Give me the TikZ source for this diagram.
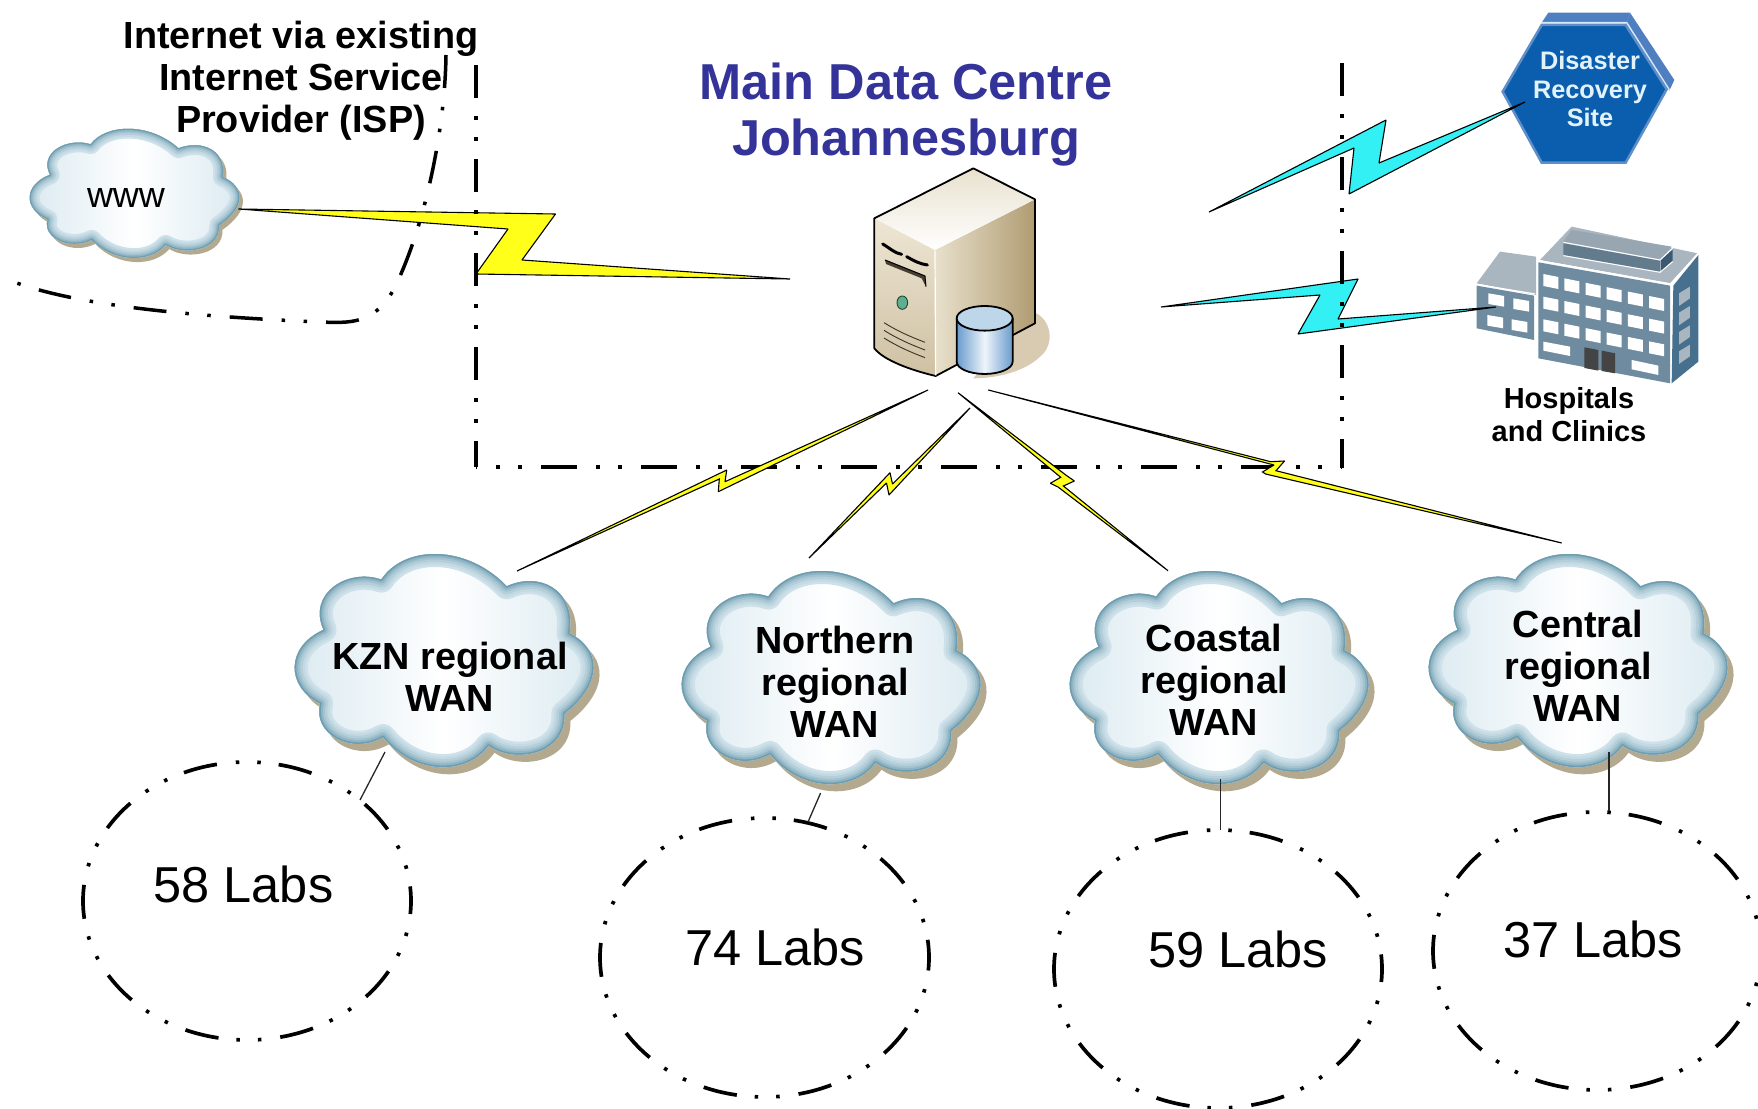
\documentclass[tikz,border=0pt]{standalone}
\usepackage{fontspec}
\setmainfont{Liberation Sans}
\definecolor{titleblue}{HTML}{33339A}
\definecolor{boltyellow}{HTML}{FFFF1A}
\definecolor{boltcyan}{HTML}{33F0F5}
\definecolor{rimc}{HTML}{6F9DB0}
\definecolor{cloudside}{HTML}{D9E9F0}
\definecolor{cloudshadowc}{HTML}{B3A98F}
\definecolor{hexfront}{HTML}{0B5EAD}
\definecolor{hexedge}{HTML}{5F8FC8}
\definecolor{hexside}{HTML}{4F7FC0}
\definecolor{hexline}{HTML}{D8E8F4}
\definecolor{hextext}{HTML}{E2F2FA}
\definecolor{bfront}{HTML}{6E8BA0}
\definecolor{btop}{HTML}{A9B5BF}
\definecolor{bside}{HTML}{47708F}
\definecolor{bdoor}{HTML}{444444}
\tikzset{
  base text/.style={inner sep=0pt,text=black,align=center},
  bigbold/.style={base text,font=\fontsize{37.8}{42}\selectfont\bfseries},
  titletext/.style={base text,text=titleblue,font=\fontsize{50.5}{56}\selectfont\bfseries},
  labtext/.style={base text,anchor=base,font=\fontsize{50.5}{56}\selectfont},
  hostext/.style={base text,font=\fontsize{29}{33}\selectfont\bfseries},
  hextxt/.style={base text,text=hextext,font=\fontsize{25.3}{28.5}\selectfont\bfseries},
  boxline/.style={line width=3.8pt,dash pattern=on 33pt off 18pt on 3.8pt off 17pt on 3.8pt off 18.4pt},
  boxlineh/.style={line width=3.8pt,dash pattern=on 36pt off 19pt on 3.8pt off 18.2pt on 3.8pt off 19.2pt,dash phase=35pt},
  ispline/.style={line width=3.5pt,dash pattern=on 33pt off 19pt on 3.5pt off 18.5pt on 3.5pt off 19pt},
  labring/.style={line width=3.7pt,dash pattern=on 34pt off 19pt on 3.5pt off 18pt on 3.5pt off 18pt,dash phase=21pt},
  yellowbolt/.style={draw=black,fill=boltyellow,line width=1.1pt,line join=miter,miter limit=2},
  cyanbolt/.style={draw=black,fill=boltcyan,line width=1.1pt,line join=miter,miter limit=2},
  thinlink/.style={draw=black!85,line width=1.3pt},
  srvline/.style={draw=black,line width=1.8pt,line join=round},
}
\newcommand\cloudP{(-190,-240) .. controls (-120,-345) and (70,-345) .. (190,-220)
 .. controls (290,-265) and (400,-210) .. (380,-80)
 .. controls (480,-30) and (480,70) .. (365,160)
 .. controls (370,285) and (210,310) .. (135,255)
 .. controls (70,345) and (-90,345) .. (-185,230)
 .. controls (-280,285) and (-400,220) .. (-375,130)
 .. controls (-480,80) and (-480,-40) .. (-365,-90)
 .. controls (-415,-200) and (-290,-275) .. (-190,-240) -- cycle}
\newcommand\cloudshape[6]{%
 \begin{scope}[shift={(#1+#5,#2+#5*1.2)},xscale=#3,yscale=#4]
  \fill[cloudshadowc] \cloudP;
 \end{scope}
 \begin{scope}[shift={(#1,#2)},xscale=#3,yscale=#4]
  \begin{scope}
   \clip \cloudP;
   \shade[left color=cloudside,right color=cloudside,middle color=white] (-480,-360) rectangle (480,360);
   \foreach \w/\p in {26/10,21/20,16/35,11/50,7/70,3/100}{
     \draw[line width={\w*#6*1pt},line join=round,color=rimc!\p!cloudside] \cloudP;
   }
  \end{scope}
 \end{scope}}
\begin{document}
\begin{tikzpicture}[x=1pt,y=-1pt]
\useasboundingbox (0,0) rectangle (1758,1108);
\fill[white] (0,0) rectangle (1758,1108);

% clouds
\cloudshape{134.5}{193}{0.2315}{0.203}{3.5}{0.75}
\cloudshape{444}{660}{0.33}{0.335}{6}{1}
\cloudshape{831}{677}{0.33}{0.335}{6}{1}
\cloudshape{1219}{677}{0.33}{0.335}{6}{1}
\cloudshape{1578}{660}{0.33}{0.335}{6}{1}

% server
\begin{scope}[shift={(840,140)},xscale=0.3333,yscale=0.3333]
 \fill[color={rgb,255:red,216;green,203;blue,178}] (500,600) -- (590,520) .. controls (640,550) and (640,620) .. (600,650) .. controls (560,690) and (480,715) .. (400,715) -- cycle;
 \shade[left color={rgb,255:red,232;green,224;blue,204},right color={rgb,255:red,176;green,156;blue,114}] (285,330) -- (585,178) -- (585,550) -- (287,708) -- cycle;
 \shade[top color={rgb,255:red,238;green,230;blue,212},bottom color={rgb,255:red,206;green,192;blue,162}] (103,235) -- (285,330) -- (287,708) .. controls (210,690) and (130,660) .. (103,625) -- cycle;
 \shade[top color={rgb,255:red,232;green,225;blue,206},bottom color=white] (103,235) -- (400,85) -- (585,178) -- (285,330) -- cycle;
 \draw[srvline] (103,235) -- (400,85) -- (585,178) -- (585,550) -- (287,708) .. controls (210,690) and (130,660) .. (103,625) -- cycle;
 \draw[white,line width=1.2pt] (285,332) -- (287,706);
 \draw[black,line width=3pt,line cap=round] (128,312) .. controls (150,325) and (165,340) .. (185,343);
 \draw[black,line width=3pt,line cap=round] (200,350) .. controls (220,362) and (240,372) .. (262,375);
 \fill[color={rgb,255:red,70;green,60;blue,50}] (135,360) -- (255,408) -- (258,440) -- (245,415) -- (138,372) -- cycle;
 \draw[black,line width=1pt] (135,360) -- (255,408) -- (258,440);
 \draw[color={rgb,255:red,30;green,70;blue,50},fill={rgb,255:red,95;green,174;blue,143},line width=0.9pt] (187,488) ellipse (16 and 20);
 \foreach \dy in {0,23,46}{
  \draw[color={rgb,255:red,60;green,50;blue,40},line width=0.9pt] (132,548+\dy) .. controls (170,572+\dy) and (210,590+\dy) .. (255,607+\dy);
 }
 \shade[left color={rgb,255:red,105;green,155;blue,205},right color={rgb,255:red,105;green,155;blue,205},middle color={rgb,255:red,238;green,245;blue,250}] (350,535) -- (350,665) arc[start angle=180,end angle=0,x radius=84,y radius=37] -- (518,535) -- cycle;
 \fill[color={rgb,255:red,190;green,214;blue,234}] (434,535) ellipse (84 and 37);
 \draw[srvline] (350,535) -- (350,665) arc[start angle=180,end angle=0,x radius=84,y radius=37] -- (518,535);
 \draw[srvline] (434,535) ellipse (84 and 37);
\end{scope}

% hexagon
\begin{scope}[shift={(1460,0)},xscale=0.3333,yscale=0.3333]
 \fill[hexside] (245,68) -- (265,38) -- (510,38) -- (500,68) -- cycle;
 \fill[hexside] (510,38) -- (643,240) -- (628,272) -- (498,72) -- cycle;
 \draw[hexline,line width=1.6pt] (245,68) -- (500,68) -- (628,270);
 \draw[hexedge,fill=hexfront,line width=2.5pt] (128,275) -- (245,75) -- (497,75) -- (620,268) -- (497,488) -- (245,488) -- cycle;
\end{scope}
\node[hextxt] (drsite) at (1590,89) {Disaster\\Recovery\\Site};

% building
\begin{scope}[shift={(1460,0)},xscale=0.3333,yscale=0.3333]
 \fill[btop] (50,850) -- (120,755) -- (228,770) -- (228,885) -- cycle;
 \fill[bfront] (50,857) -- (222,887) -- (222,1020) -- (50,985) -- cycle;
 \draw[white,line width=1.2pt] (50,853) -- (225,882);
 \fill[btop] (240,780) -- (335,680) -- (712,760) -- (630,850) -- cycle;
 \fill[bfront] (235,787) -- (630,857) -- (630,1150) -- (235,1075) -- cycle;
 \fill[bside] (640,857) -- (715,765) -- (715,1085) -- (635,1150) -- cycle;
 \draw[white,line width=1.4pt] (235,782) -- (632,852) -- (715,760);
 \fill[color={rgb,255:red,152;green,166;blue,178}] (310,725) -- (335,690) -- (635,740) -- (600,778) -- cycle;
 \fill[color={rgb,255:red,98;green,124;blue,142}] (310,730) -- (600,782) -- (600,815) -- (310,765) -- cycle;
 \fill[bside!80!black] (603,780) -- (638,748) -- (638,782) -- (603,815) -- cycle;
 \draw[white,line width=1pt] (310,727) -- (600,780) -- (638,745);
 \draw[white,line width=1pt] (310,767) -- (600,817) -- (638,785);
 \foreach \i in {0,1,2,3,4,5}{\foreach \j in {0,1,2}{
   \fill[white] ({250+63.4*\i},{822+13.2*\i+68*\j}) -- ++(45,9) -- ++(0,36) -- ++(-45,-9) -- cycle;
 }}
 \foreach \a/\b in {85/880,160/895,82/945,155/958}{
   \fill[white] (\a,\b) -- ++(47,8) -- ++(0,32) -- ++(-47,-8) -- cycle;
 }
 \fill[white] (250,1025) -- (330,1040) -- (330,1068) -- (250,1052) -- cycle;
 \fill[white] (515,1080) -- (595,1097) -- (595,1125) -- (515,1108) -- cycle;
 \fill[bdoor] (373,1042) -- (415,1050) -- (415,1112) -- (373,1104) -- cycle;
 \fill[bdoor] (425,1052) -- (465,1060) -- (465,1120) -- (425,1113) -- cycle;
 \foreach \dy in {0,58,116,174}{
   \fill[btop] (657,880+\dy) -- (690,860+\dy) -- (690,895+\dy) -- (657,918+\dy) -- cycle;
 }
\end{scope}

% named ends of the links
\coordinate (wwwEnd) at (238.5,209);
\coordinate (srvW) at (790,279);
\coordinate (srvNE) at (1209,212);
\coordinate (srvE) at (1161,307);
\coordinate (drEnd) at (1525,102);
\coordinate (hospEnd) at (1496,307);
\coordinate (srvA) at (928,390);
\coordinate (srvB) at (970,408);
\coordinate (srvC) at (958,392.7);
\coordinate (srvD) at (988.3,390);
\coordinate (kznTop) at (517,571);
\coordinate (norTop) at (809,558);
\coordinate (coaTop) at (1168,570.7);
\coordinate (cenTop) at (1561.7,543);
\coordinate (kznBot) at (385,752);
\coordinate (labA) at (360,800);
\coordinate (norBot) at (820.6,793);
\coordinate (labB) at (808,822);
\coordinate (coaBot) at (1220.6,779);
\coordinate (labC) at (1220.6,830);
\coordinate (cenBot) at (1609,752);
\coordinate (labD) at (1609,811);

% large bolts
\draw[yellowbolt] (wwwEnd) -- (555.5,214) -- (522,260) -- (srvW) -- (476,274) -- (508,229) -- cycle;
\draw[cyanbolt] (srvNE) -- (1386,120) -- (1379,163) -- (drEnd) -- (1349,194) -- (1354,148) -- cycle;
\draw[cyanbolt] (srvE) -- (1358,279) -- (1338,319) -- (hospEnd) -- (1298,334) -- (1320,295) -- cycle;

% data-centre boundary
\draw[boxline] (476,65) -- (476,467);
\draw[boxline] (1342,63) -- (1342,468);
\draw[boxlineh] (476,467) -- (1342,467);

% internet boundary
\draw[ispline] (446,55) .. controls (445,130) and (425,225) .. (395,287) .. controls (375,325) and (350,323) .. (320,322) .. controls (230,318) and (90,310) .. (14,282);

% small bolts
\draw[yellowbolt] (kznTop) -- (726.7,470) -- (725,481.7) -- (srvA) -- (718.3,491.7) -- (719.3,479) -- cycle;
\draw[yellowbolt] (norTop) -- (890,472.7) -- (892.5,484) -- (srvB) -- (889,495) -- (886.5,483) -- cycle;
\draw[yellowbolt] (srvC) -- (1065.8,475) -- (1074.4,481) -- (1063.4,486) -- (coaTop) -- (1058,487) -- (1050.3,483.3) -- (1060.7,477.3) -- cycle;
\draw[yellowbolt] (srvD) -- (1270.7,461.7) -- (1284.5,461) -- (1276,470.7) -- (cenTop) -- (1265.5,474) -- (1262.5,472) -- (1274,465) -- cycle;

% lab rings
\draw[labring] (247,901) ellipse (164 and 139);
\draw[labring] (764.5,957.5) ellipse (164.5 and 139.5);
\draw[labring] (1218,969) ellipse (164 and 139);
\draw[labring] (1597,951) ellipse (164 and 139);
\draw[thinlink] (kznBot) -- (labA);
\draw[thinlink] (norBot) -- (labB);
\draw[thinlink] (coaBot) -- (labC);
\draw[thinlink] (cenBot) -- (labD);

% text
\node[bigbold] (isp) at (301,80.5) {Internet via existing\\Internet Service\\Provider (ISP)};
\node[titletext] (main) at (906,115) {Main Data Centre\\Johannesburg};
\node[base text,font=\fontsize{36}{40}\selectfont] (www) at (126,198) {www};
\node[hostext] (hosp) at (1569,415) {Hospitals\\and Clinics};
\node[bigbold] (kzn) at (450,677) {KZN regional\\WAN};
\node[bigbold] (nor) at (835,682) {Northern\\regional\\WAN};
\node[bigbold] (coa) at (1214,680) {Coastal\\regional\\WAN};
\node[bigbold] (cen) at (1578,666) {Central\\regional\\WAN};
\node[labtext] (n58) at (243.5,902) {58 Labs};
\node[labtext] (n74) at (775,965) {74 Labs};
\node[labtext] (n59) at (1238,967) {59 Labs};
\node[labtext] (n37) at (1593,957) {37 Labs};
\end{tikzpicture}
\end{document}
